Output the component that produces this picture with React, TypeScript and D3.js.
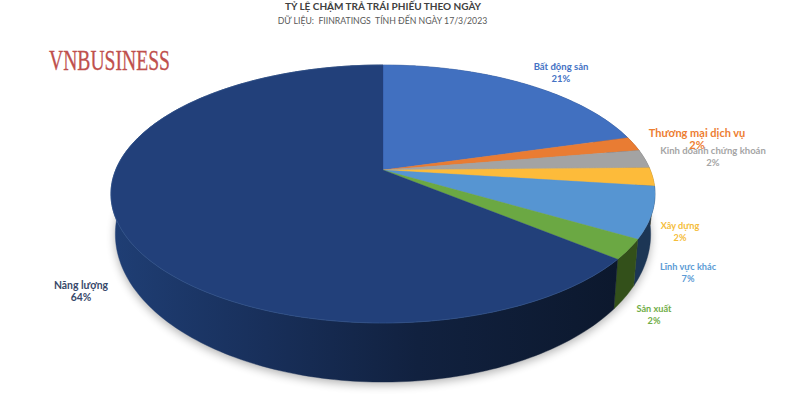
import React from "react";
import * as d3 from "d3";

const categories = ["Bất động sản", "Thương mại dịch vụ", "Kinh doanh chứng khoán", "Xây dựng", "Lĩnh vực khác", "Sản xuất", "Năng lượng"];
const values = [20.6, 1.8, 2.3, 2.3, 6.4, 2.5, 64.1];
const percentLabels = ["21%", "2%", "2%", "2%", "7%", "2%", "64%"];
const topColors = ["#4170c0", "#e97c33", "#a3a3a3", "#fdbb3a", "#5695d2", "#6ba843", "#22407a"];
const sideColors = ["#2a4a80", "#8f4a1c", "#666", "#99731f", "#1c3655", "#33501a", "url(#navySide)"];
const labelColors = ["#4472c4", "#ed7d31", "#a5a5a5", "#f5bd3a", "#5b9bd5", "#70ad47", "#38486a"];
const labelPos: [number, number][] = [[561, 67], [697, 134], [713, 151], [680, 226], [688, 267], [654, 309], [81, 286]];
const labelSizes = [9.5, 11, 9.5, 9.2, 9.2, 9.2, 10.4];

const W = 806, H = 410;
const CX = 383;
const K = -0.186;
const top = { c: 267.3, a: 92.9, b: 170 };
const bot = { c: 263, a: 104.5, b: 206.5 };

function rim(p: { c: number; a: number; b: number }, ang: number): [number, number] {
  const u = Math.sin(ang), v = -Math.cos(ang), w = 1 + K * v;
  return [CX + (p.c * u) / w, (p.a * v + p.b) / w];
}
function arcPts(p: typeof top, a0: number, a1: number): [number, number][] {
  const n = Math.max(2, Math.ceil((a1 - a0) / 0.02));
  return d3.range(n + 1).map((i) => rim(p, a0 + ((a1 - a0) * i) / n));
}
const toPath = d3.line<[number, number]>().x((d) => d[0]).y((d) => d[1]);

export default function App() {
  const arcs = d3.pie<number>().sort(null)(values);
  const sideArcs = arcs.map((a) => {
    const up = arcPts(top, a.startAngle, a.endAngle);
    const low = arcPts(bot, a.startAngle, a.endAngle).reverse();
    return toPath([...up, ...low])! + "Z";
  });
  const topArcs = arcs.map((a) => {
    const up = arcPts(top, a.startAngle, a.endAngle);
    return toPath([[CX, top.b], ...up])! + "Z";
  });
  const outline = toPath(arcPts(bot, 0, Math.PI * 2))! + "Z";
  const navy = arcs[6];
  const rimLine = toPath(arcPts(top, navy.startAngle, navy.endAngle))!;
  const font = "Lato, 'Open Sans', sans-serif";
  return (
    <svg width={W} height={H} viewBox={`0 0 ${W} ${H}`} style={{ position: "absolute", left: 0, top: 0, background: "#fff" }}>
      <defs>
        <linearGradient id="navySide" gradientUnits="userSpaceOnUse" x1={115} x2={620} y1={0} y2={0}>
          <stop offset="0" stopColor="#1f3e74" />
          <stop offset="0.3" stopColor="#182f5a" />
          <stop offset="0.6" stopColor="#11213f" />
          <stop offset="1" stopColor="#0c182d" />
        </linearGradient>
        <filter id="soft" x="-10%" y="-10%" width="120%" height="120%">
          <feGaussianBlur stdDeviation="5" />
        </filter>
      </defs>
      <path d={outline} fill="#000" opacity={0.3} filter="url(#soft)" transform="translate(0,3)" />
      {sideArcs.map((d, i) => (
        <path key={categories[i]} d={d} fill={sideColors[i]} stroke={sideColors[i]} strokeWidth={0.4} />
      ))}
      {topArcs.map((d, i) => (
        <path key={categories[i]} d={d} fill={topColors[i]} stroke={topColors[i]} strokeWidth={0.3} />
      ))}
      <path d={rimLine} fill="none" stroke="#34568f" strokeWidth={0.8} opacity={0.8} />
      <text x={383} y={10} textAnchor="middle" fontFamily={font} fontWeight={700} fontSize={10} fill="#404040">TỶ LỆ CHẬM TRẢ TRÁI PHIẾU THEO NGÀY</text>
      <text x={382.5} y={24} textAnchor="middle" fontFamily={font} fontSize={8.7} fill="#595959" xmlSpace="preserve">DỮ LIỆU:  FIINRATINGS  TÍNH ĐẾN NGÀY 17/3/2023</text>
      <text x={49} y={70} fontFamily="'Liberation Serif', serif" fontSize={30} fill="#c0504d" stroke="#c0504d" strokeWidth={0.3} textLength={121} lengthAdjust="spacingAndGlyphs">VNBUSINESS</text>
      {categories.map((c, i) => (
        <g key={c} textAnchor="middle" fontFamily={font} fontWeight={700} fontSize={labelSizes[i]} fill={labelColors[i]}>
          <text x={labelPos[i][0]} y={labelPos[i][1] + 3}>{c}</text>
          <text x={labelPos[i][0]} y={labelPos[i][1] + 15}>{percentLabels[i]}</text>
        </g>
      ))}
    </svg>
  );
}
